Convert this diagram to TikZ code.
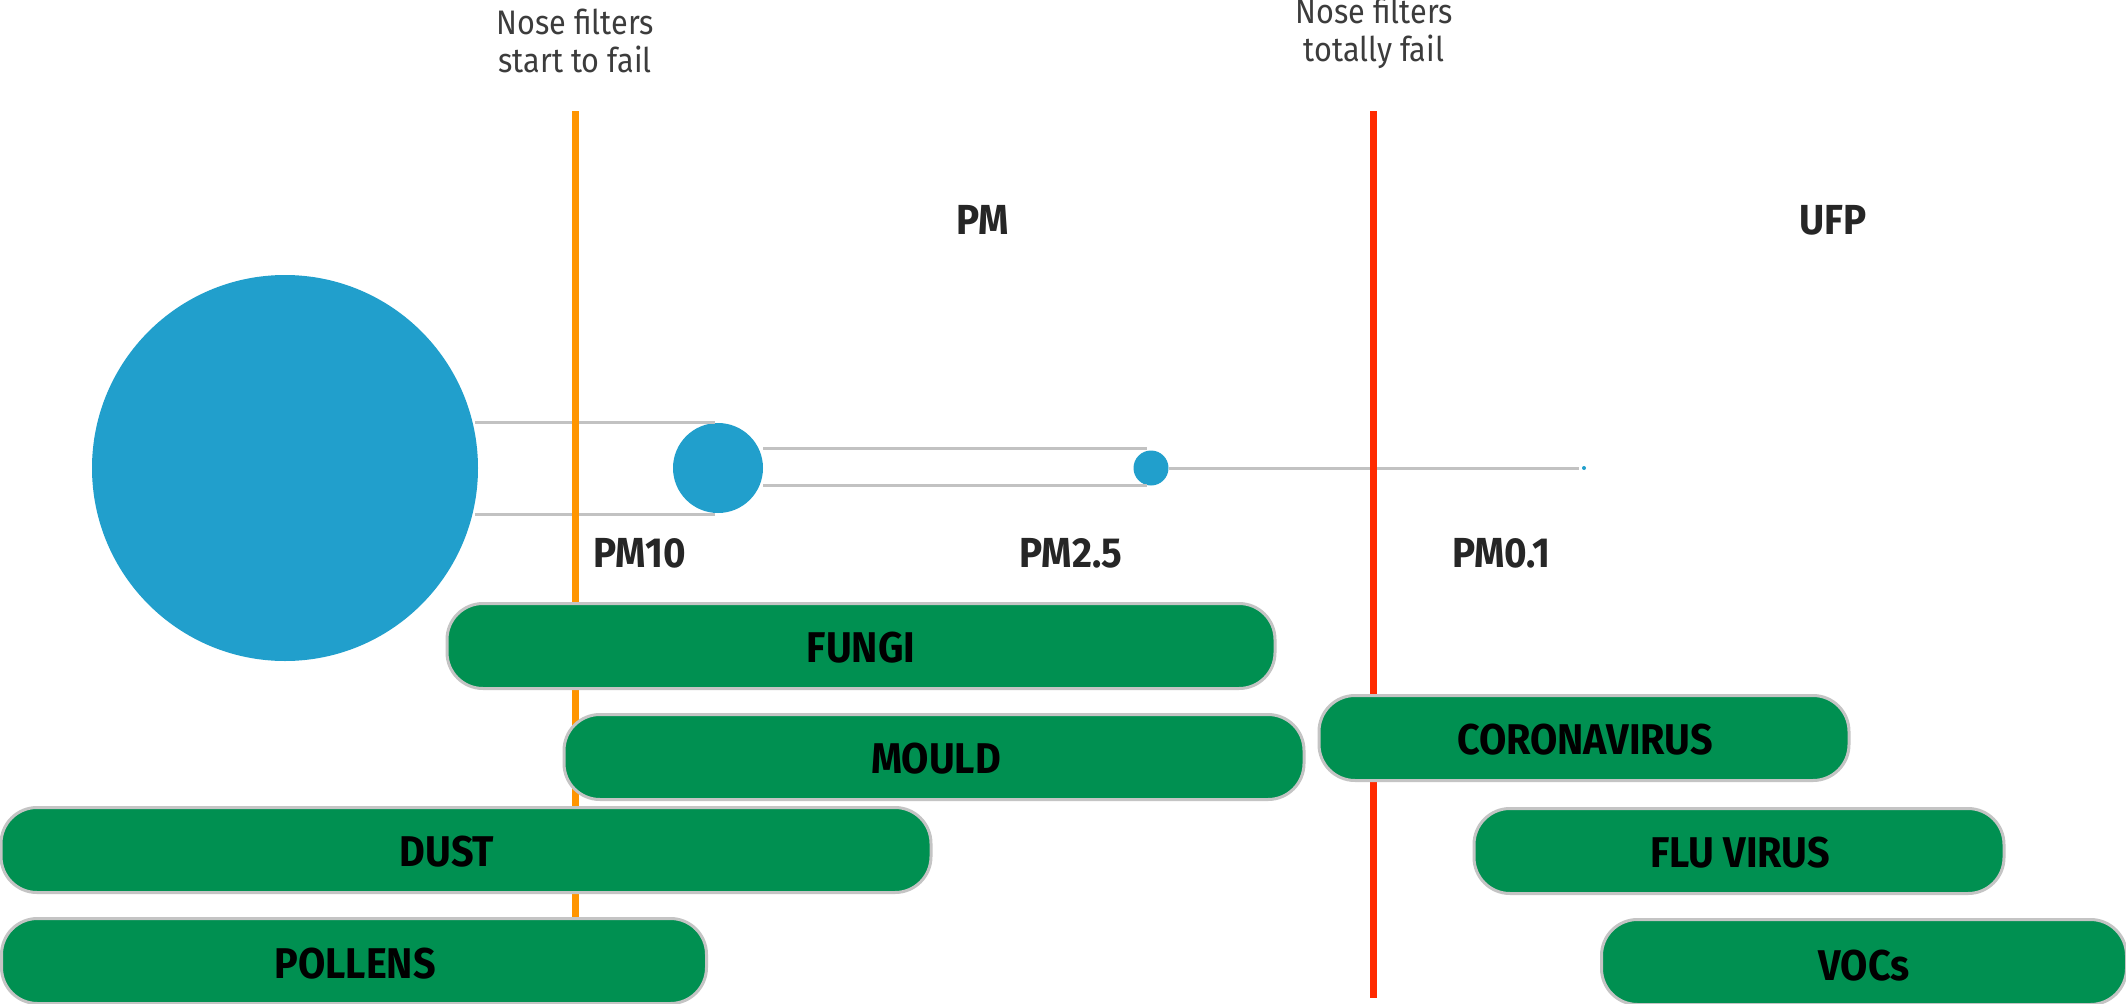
\documentclass[tikz,border=0pt]{standalone}
\usepackage{fontspec}
\setmainfont{Fira Sans}
\newfontfamily\condbold[FakeStretch=0.92]{Fira Sans}
\newfontfamily\condreg[FakeStretch=0.9]{Fira Sans}
\definecolor{dotblue}{HTML}{219FCC}
\definecolor{bargreen}{HTML}{009051}
\definecolor{barrim}{HTML}{C4C4C4}
\definecolor{guide}{HTML}{C2C2C2}
\definecolor{warnorange}{HTML}{FF9500}
\definecolor{warnred}{HTML}{FF2A00}
\definecolor{txtdark}{HTML}{262626}
\tikzset{
  bar/.style={draw=barrim, line width=3pt, fill=bargreen, rounded corners=36pt, minimum height=85pt, inner sep=0pt},
  barlabel/.style={font=\condbold\bfseries\fontsize{43}{46}\selectfont, text=black, inner sep=0pt},
  pmlabel/.style={font=\condbold\bfseries\fontsize{42}{44}\selectfont, text=txtdark, inner sep=0pt},
  noselabel/.style={font=\condreg\fontsize{34}{38}\selectfont, text=txtdark!90, align=center, inner sep=0pt},
  particle/.style={circle, fill=dotblue, inner sep=0pt},
  guideline/.style={draw=guide, line width=3pt},
  limit/.style={line width=7pt}
}
\begin{document}
\begin{tikzpicture}[x=1pt,y=-1pt]
\useasboundingbox[fill=white] (0,0) rectangle (2126,1004);

% particles
\node[particle, minimum size=386pt] (big) at (285,468) {};
\node[particle, minimum size=90pt] (mid) at (718,468) {};
\node[particle, minimum size=35pt] (small) at (1151,468) {};
\node[particle, minimum size=4pt] (tiny) at (1584,468) {};

% guide lines
\coordinate (g1a) at (475,422); \coordinate (g1b) at (715,422);
\coordinate (g2a) at (475,514); \coordinate (g2b) at (715,514);
\coordinate (g3a) at (763,448); \coordinate (g3b) at (1147,448);
\coordinate (g4a) at (763,485); \coordinate (g4b) at (1147,485);
\coordinate (g5b) at (1579,468);
\draw[guideline] (g1a) -- (g1b);
\draw[guideline] (g2a) -- (g2b);
\draw[guideline] (g3a) -- (g3b);
\draw[guideline] (g4a) -- (g4b);
\draw[guideline] (small.east) -- (g5b);

% limit lines
\coordinate (o1) at (575,111); \coordinate (o2) at (575,919);
\coordinate (r1) at (1373,111); \coordinate (r2) at (1373,998);
\draw[limit, warnorange] (o1) -- (o2);
\draw[limit, warnred] (r1) -- (r2);

% top labels
\node[noselabel] (nose1) at (575,41) {Nose filters\\start to fail};
\node[noselabel] (nose2) at (1374,33) {Nose filters\\totally fail};
\node[pmlabel] (pm) at (983,220) {PM};
\node[pmlabel] (ufp) at (1833,220) {UFP};
\node[pmlabel] (pm10) at (640,553) {PM10};
\node[pmlabel] (pm25) at (1071,553) {PM2.5};
\node[pmlabel] (pm01) at (1501,553) {PM0.1};

% bars
\node[bar, minimum width=828pt] (fungi) at (861,646) {};
\node[bar, minimum width=740pt] (mould) at (934,757) {};
\node[bar, minimum width=930pt] (dust) at (466,850) {};
\node[bar, minimum width=705pt] (pollens) at (354,961) {};
\node[bar, minimum width=530pt] (corona) at (1584,738) {};
\node[bar, minimum width=530pt] (flu) at (1739,851) {};
\node[bar, minimum width=525pt] (vocs) at (1864,962) {};

\node[barlabel] (tfungi) at (861,648) {FUNGI};
\node[barlabel] (tmould) at (936,759) {MOULD};
\node[barlabel] (tdust) at (447,852) {DUST};
\node[barlabel] (tpollens) at (355,964) {POLLENS};
\node[barlabel] (tcorona) at (1585,740) {CORONAVIRUS};
\node[barlabel] (tflu) at (1740,853) {FLU VIRUS};
\node[barlabel] (tvocs) at (1864,966) {VOCs};
\end{tikzpicture}
\end{document}
